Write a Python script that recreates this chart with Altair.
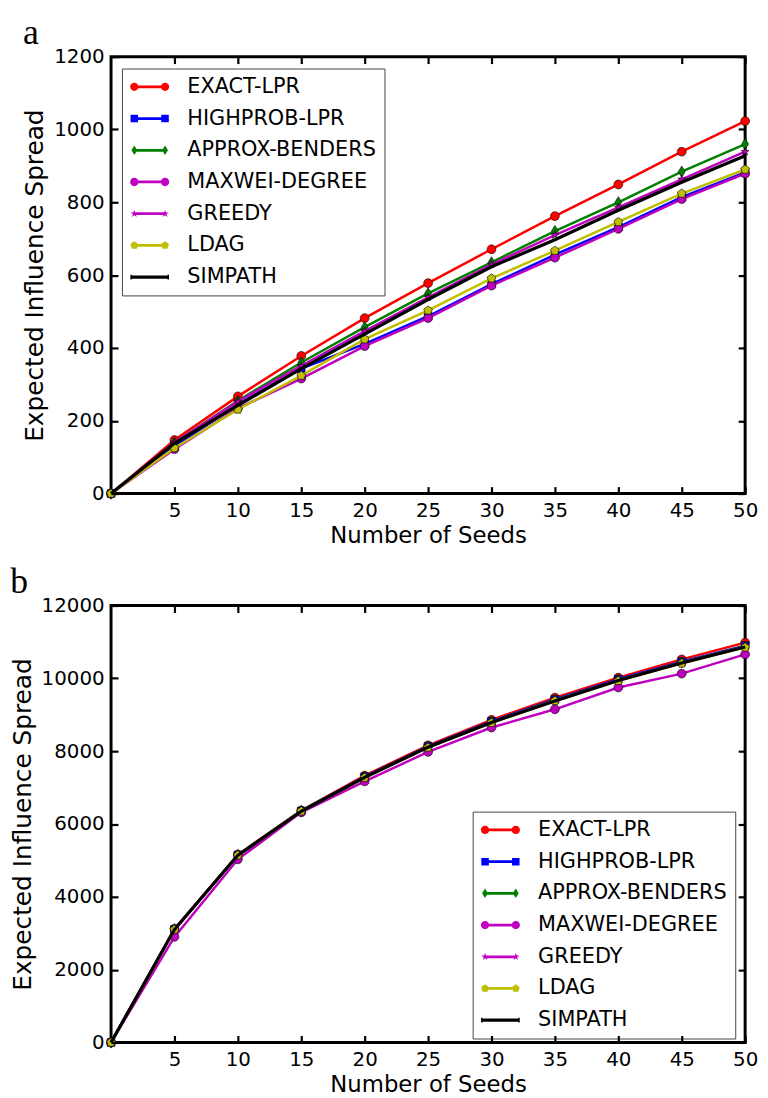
import altair as alt
import pandas as pd

# ---------------- data ----------------
seeds = [0, 5, 10, 15, 20, 25, 30, 35, 40, 45, 50]
series = ["EXACT-LPR", "HIGHPROB-LPR", "APPROX-BENDERS", "MAXWEI-DEGREE",
          "GREEDY", "LDAG", "SIMPATH"]

a_exact = [0, 147, 267, 378, 482, 578, 671, 762, 849, 939, 1023]
a_highprob = [0, 130, 245, 343, 411, 487, 575, 656, 732, 814, 882]
a_approx = [0, 140, 255, 360, 457, 550, 635, 721, 800, 884, 960]
a_maxwei = [0, 122, 234, 316, 405, 482, 571, 648, 727, 809, 879]
a_greedy = [0, 140, 253, 351, 446, 539, 629, 710, 786, 863, 939]
a_ldag = [0, 125, 231, 324, 424, 503, 591, 667, 746, 824, 890]
a_simpath = [0, 138, 242, 343, 438, 533, 623, 697, 778, 855, 928]

b_exact = [0, 3120, 5160, 6370, 7330, 8160, 8860, 9470, 10020, 10520, 10980]
b_highprob = [0, 3110, 5150, 6360, 7300, 8130, 8820, 9420, 9980, 10460, 10900]
b_approx = [0, 3110, 5150, 6360, 7290, 8120, 8800, 9400, 9960, 10440, 10880]
b_maxwei = [0, 2900, 5030, 6320, 7170, 7980, 8650, 9150, 9750, 10130, 10660]
b_greedy = [0, 3100, 5140, 6350, 7280, 8110, 8790, 9390, 9950, 10420, 10870]
b_ldag = [0, 3100, 5140, 6350, 7270, 8100, 8780, 9380, 9930, 10410, 10850]
b_simpath = [0, 3100, 5140, 6350, 7280, 8110, 8790, 9380, 9940, 10420, 10860]

x_ticks = [5, 10, 15, 20, 25, 30, 35, 40, 45, 50]
a_yticks = [0, 200, 400, 600, 800, 1000, 1200]
b_yticks = [0, 2000, 4000, 6000, 8000, 10000, 12000]

# ---------------- style ----------------
colors = ["#ff0000", "#0000ff", "#008000", "#bf00bf", "#bf00bf", "#bfbf00", "#000000"]
line_w = [2.5, 2.5, 2.5, 2.5, 2.5, 2.5, 3.2]

STAR = ("M0,-1L0.2234,-0.3074L0.9511,-0.309L0.3614,0.1174L0.5878,0.809L0,0.38"
        "L-0.5878,0.809L-0.3614,0.1174L-0.9511,-0.309L-0.2234,-0.3074Z")
PENT = "M0,-1L0.9511,-0.309L0.5878,0.809L-0.5878,0.809L-0.9511,-0.309Z"
TDIAM = "M0,-1L0.6,0L0,1L-0.6,0Z"
plot_shapes = ["circle", "square", TDIAM, "circle", STAR, PENT, None]
plot_sizes = [80, 60, 130, 80, 70, 85, 0]


def f(v):
    return f"{v:.3f}"


def m_circle(cx, r):
    return (f"M{f(cx - r)},0A{f(r)},{f(r)} 0 1,1 {f(cx + r)},0"
            f"A{f(r)},{f(r)} 0 1,1 {f(cx - r)},0Z")


def m_square(cx, s):
    return f"M{f(cx - s)},{f(-s)}L{f(cx + s)},{f(-s)}L{f(cx + s)},{f(s)}L{f(cx - s)},{f(s)}Z"


def m_diam(cx, w, h):
    return f"M{f(cx)},{f(-h)}L{f(cx + w)},0L{f(cx)},{f(h)}L{f(cx - w)},0Z"


def m_poly(cx, r, pts):
    out = []
    for i, (px, py) in enumerate(pts):
        out.append(("M" if i == 0 else "L") + f"{f(cx + px * r)},{f(py * r)}")
    return "".join(out) + "Z"


STAR_PTS = [(0, -1), (0.2234, -0.3074), (0.9511, -0.309), (0.3614, 0.1174), (0.5878, 0.809),
            (0, 0.38), (-0.5878, 0.809), (-0.3614, 0.1174), (-0.9511, -0.309), (-0.2234, -0.3074)]
PENT_PTS = [(0, -1), (0.9511, -0.309), (0.5878, 0.809), (-0.5878, 0.809), (-0.9511, -0.309)]

L0, L1 = -0.6, 2.5   # marker centres in legend units (10 px per unit)
LH = 0.14


def line_rect(x0, x1, h):
    return f"M{f(x0)},{f(-h)}L{f(x1)},{f(-h)}L{f(x1)},{f(h)}L{f(x0)},{f(h)}Z"


legend_paths = [
    line_rect(L0, L1, LH) + m_circle(L0, 0.42) + m_circle(L1, 0.42),
    line_rect(L0, L1, LH) + m_square(L0, 0.38) + m_square(L1, 0.38),
    line_rect(L0, L1, LH) + m_diam(L0, 0.3, 0.48) + m_diam(L1, 0.3, 0.48),
    line_rect(L0, L1, LH) + m_circle(L0, 0.42) + m_circle(L1, 0.42),
    line_rect(L0, L1, LH) + m_poly(L0, 0.4, STAR_PTS) + m_poly(L1, 0.4, STAR_PTS),
    line_rect(L0, L1, LH) + m_poly(L0, 0.42, PENT_PTS) + m_poly(L1, 0.42, PENT_PTS),
    line_rect(L0 - 0.4, L1 + 0.4, 0.16) + line_rect(L0 - 0.4, L0 - 0.25, 0.24)
    + line_rect(L1 + 0.25, L1 + 0.4, 0.24),
]

W, H = 640, 441
FONT = "DejaVu Sans"
TICK_LEN = 7


def tick_axis(orient, offset, vals):
    return alt.Axis(values=vals, orient=orient, offset=offset, ticks=True, tickSize=TICK_LEN,
                    tickWidth=2.2, tickColor="black", labels=False, domain=False,
                    grid=False, title=None, zindex=2)


def panel(vals, ymax, yticks, lx, ly, tag):
    rows = []
    for name, v in zip(series, vals):
        for s, y in zip(seeds, v):
            rows.append({"series": name, "seeds": s, "value": y})
    df = pd.DataFrame(rows)
    base = alt.Chart(df)
    xs = alt.Scale(domain=[0, 50], nice=False, zero=False)
    ys = alt.Scale(domain=[0, ymax], nice=False)

    main_x = alt.Axis(values=x_ticks, orient="bottom", ticks=False, domain=False, grid=False,
                      labelPadding=7, labelFlush=False, labelOverlap=False,
                      title="Number of Seeds", titlePadding=4, titleFontSize=23)
    main_y = alt.Axis(values=yticks, orient="left", ticks=False, domain=False, grid=False,
                      labelPadding=7, labelFlush=False, labelOverlap=False, format="d",
                      title="Expected Influence Spread", titlePadding=6, titleFontSize=25)
    # inward ticks: every tick axis points down (bottom) or left (left) from a shifted line
    x_axes = [main_x, tick_axis("bottom", -TICK_LEN, x_ticks), tick_axis("bottom", -H, x_ticks)]
    y_axes = [main_y, tick_axis("left", -TICK_LEN, yticks), tick_axis("left", -W, yticks)]

    layers = []
    k = 0
    for i, name in enumerate(series):
        sub = base.transform_filter(alt.datum.series == name)
        marks = [sub.mark_line(color=colors[i], strokeWidth=line_w[i])]
        if plot_shapes[i]:
            marks.append(sub.mark_point(shape=plot_shapes[i], size=plot_sizes[i], filled=True,
                                        fill=colors[i], stroke="black", strokeWidth=0.6,
                                        opacity=1))
        for m in marks:
            xa = x_axes[k] if k < 3 else None
            ya = y_axes[k] if k < 3 else None
            if xa is None:
                enc = m.encode(x=alt.X("seeds:Q", scale=xs, axis=None),
                               y=alt.Y("value:Q", scale=ys, axis=None))
            else:
                enc = m.encode(x=alt.X("seeds:Q", scale=xs, axis=xa),
                               y=alt.Y("value:Q", scale=ys, axis=ya))
            layers.append(enc)
            k += 1

    leg = alt.Legend(title=None, orient="none", legendX=lx, legendY=ly, direction="vertical",
                     symbolSize=400, symbolStrokeWidth=0, symbolOpacity=1,
                     labelFont=FONT, labelFontSize=21, labelColor="black", labelOffset=37,
                     labelLimit=400, rowPadding=10, padding=8, fillColor="white",
                     strokeColor="#444444", cornerRadius=0)
    legend_layer = base.transform_filter("datum.seeds < 0").mark_point(
        filled=True, opacity=1).encode(
        color=alt.Color("series:N", scale=alt.Scale(domain=series, range=colors), legend=leg),
        shape=alt.Shape("series:N", scale=alt.Scale(domain=series, range=legend_paths),
                        legend=leg),
    )
    layers.append(legend_layer)

    return alt.layer(*layers).resolve_axis(x="independent", y="independent").properties(
        width=W, height=H,
        title=alt.TitleParams(tag, anchor="start", frame="bounds", font="Liberation Serif",
                              fontSize=36, fontWeight="normal", color="black", offset=-5),
    )


top = panel([a_exact, a_highprob, a_approx, a_maxwei, a_greedy, a_ldag, a_simpath],
            1200, a_yticks, 11, 12, "a")
bottom = panel([b_exact, b_highprob, b_approx, b_maxwei, b_greedy, b_ldag, b_simpath],
               12000, b_yticks, 365, 208, "b")

chart = alt.vconcat(top, bottom, spacing=13).resolve_scale(
    color="independent", shape="independent"
).resolve_legend(
    color="independent", shape="independent"
).properties(padding=0).configure_view(
    stroke="black", strokeWidth=3
).configure_axis(
    labelFont=FONT, labelFontSize=20, labelColor="black",
    titleFont=FONT, titleFontSize=22, titleColor="black", titleFontWeight="normal",
)

chart.save("out.html", embed_options={"renderer": "svg", "actions": False})
